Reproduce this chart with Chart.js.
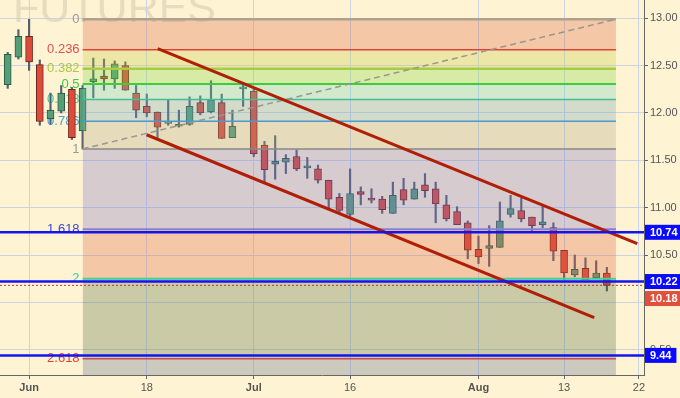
<!DOCTYPE html>
<html>
<head>
<meta charset="utf-8">
<script src="https://cdn.jsdelivr.net/npm/chart.js@4.4.1/dist/chart.umd.min.js"></script>
<style>
  html, body { margin: 0; padding: 0; background: #fef3d2; }
  #wrap { width: 680px; height: 398px; position: relative; }
</style>
</head>
<body>
<div id="wrap"><canvas id="futChart"></canvas></div>
<script>
// trading days, the last three have no candle yet
const tradeDays = ['2018-05-30','2018-05-31','2018-06-01','2018-06-04','2018-06-05','2018-06-06','2018-06-07','2018-06-08',
  '2018-06-11','2018-06-12','2018-06-13','2018-06-14','2018-06-15','2018-06-18','2018-06-19','2018-06-20','2018-06-21','2018-06-22',
  '2018-06-25','2018-06-26','2018-06-27','2018-06-28','2018-06-29','2018-07-02','2018-07-03','2018-07-05','2018-07-06',
  '2018-07-09','2018-07-10','2018-07-11','2018-07-12','2018-07-13','2018-07-16','2018-07-17','2018-07-18','2018-07-19','2018-07-20',
  '2018-07-23','2018-07-24','2018-07-25','2018-07-26','2018-07-27','2018-07-30','2018-07-31','2018-08-01','2018-08-02','2018-08-03',
  '2018-08-06','2018-08-07','2018-08-08','2018-08-09','2018-08-10','2018-08-13','2018-08-14','2018-08-15','2018-08-16','2018-08-17',
  '2018-08-20','2018-08-21','2018-08-22'];

const openP  = [12.30,12.59,12.81,12.51,11.94,12.02,12.25,11.81,12.33,12.39,12.36,12.50,12.21,12.07,12.01,11.89,11.86,11.88,12.11,12.01,
  12.11,11.74,12.255,12.23,11.66,11.46,11.48,11.54,11.42,11.41,11.29,11.11,10.93,11.17,11.10,11.09,10.94,11.19,11.09,11.24,
  11.20,11.03,10.96,10.84,10.56,10.57,10.58,10.93,10.97,10.90,10.82,10.79,10.55,10.29,10.36,10.26,10.31];
const highP  = [12.64,12.88,12.99,12.56,12.21,12.29,12.27,12.29,12.58,12.57,12.55,12.54,12.29,12.20,12.01,12.14,12.03,12.17,12.18,12.34,
  12.20,12.03,12.30,12.27,11.70,11.76,11.56,11.61,11.53,11.45,11.29,11.15,11.41,11.22,11.20,11.12,11.27,11.31,11.27,11.36,
  11.27,11.13,11.01,10.86,10.70,10.81,11.06,11.13,11.10,10.90,11.03,10.84,10.55,10.50,10.47,10.44,10.37];
const lowP   = [12.26,12.57,12.45,11.87,11.88,12.00,11.72,11.62,12.16,12.24,12.26,12.24,11.95,11.96,11.74,11.87,11.85,11.87,11.98,12.00,
  11.73,11.74,12.07,11.54,11.27,11.30,11.36,11.39,11.31,11.26,11.00,10.94,10.90,11.03,11.05,10.94,10.94,11.03,11.09,11.11,
  10.84,10.86,10.82,10.46,10.41,10.38,10.58,10.90,10.85,10.75,10.79,10.44,10.24,10.27,10.24,10.26,10.12];
const closeP = [12.62,12.81,12.54,11.91,12.03,12.21,11.74,12.26,12.36,12.36,12.52,12.24,12.03,12.00,11.85,11.91,11.88,12.07,12.00,12.14,
  11.73,11.86,12.26,11.57,11.40,11.49,11.52,11.41,11.425,11.29,11.09,10.97,11.15,11.14,11.08,10.98,11.13,11.08,11.20,11.18,
  11.04,10.88,10.82,10.55,10.48,10.60,10.86,10.99,10.88,10.81,10.85,10.54,10.31,10.35,10.24,10.31,10.18];

// fibonacci tool: 0 at the high, 1 at the Jun 8 low
const fibRatios = [0, 0.236, 0.382, 0.5, 0.618, 0.786, 1, 1.618, 2, 2.618];
const fibLabels = ['0', '0.236', '0.382', '0.5', '0.618', '0.786', '1', '1.618', '2', '2.618'];
const fibHigh = 12.99, fibLow = 11.62;
const fibDays = [7, 56.85];

// channel lines [day index, price]
const upperChannel = [[14.02, 12.68], [58.84, 10.62]];
const lowerChannel = [[12.98, 11.77], [54.82, 9.84]];

const blueLevels = [10.74, 10.22, 9.44];
const lastPrice = 10.18;

const yTicks = [9.5, 10, 10.5, 11, 11.5, 12, 12.5, 13];
const xTickDays = ['2018-06-01', '2018-06-18', '2018-07-02', '2018-07-16', '2018-08-01', '2018-08-13', '2018-08-22'];
const xTickText = ['Jun', '18', 'Jul', '16', 'Aug', '13', '22'];

// colours
const upFill = '#559e78', downFill = '#dd4b39';
const fibLineColors = ['#b0a090', '#e0403a', '#a8cc48', '#3ccc3c', '#44bb99', '#4a9ad0', '#888888', '#8a80cc', '#40d0a0', '#d04848'];
const fibLineWidths = [2.5, 1.5, 2.5, 2, 1.5, 1.5, 1.5, 2, 2, 1.5];
const fibTextColors = ['#9a9a9a', '#e05050', '#a8c840', '#40c840', '#40c8a0', '#4aa0d8', '#9a9a9a', '#3a4ad0', '#40c8a0', '#e04040'];
const zoneColors = ['rgba(221,100,70,0.3)', 'rgba(194,206,70,0.3)', 'rgba(127,220,70,0.3)', 'rgba(114,213,190,0.3)',
  'rgba(114,166,190,0.3)', 'rgba(174,166,137,0.3)', 'rgba(121,113,203,0.3)', 'rgba(221,100,70,0.3)',
  'rgba(84,110,70,0.3)', 'rgba(91,110,140,0.3)'];

const fibPrice = r => fibHigh - r * (fibHigh - fibLow);
const X_MIN = -0.72, X_MAX = 59.47;

const datasets = [];

// wicks
datasets.push({
  type: 'bar', order: 300, grouped: false, barThickness: 1.5,
  data: lowP.map((l, i) => ({ x: i, y: [l, highP[i]] })),
  backgroundColor: '#56606e', borderWidth: 0
});
// bodies
datasets.push({
  type: 'bar', order: 250, grouped: false, barThickness: 7, minBarLength: 2,
  data: openP.map((o, i) => ({ x: i, y: [o, closeP[i]] })),
  backgroundColor: c => closeP[c.dataIndex] >= openP[c.dataIndex] ? upFill : downFill,
  borderColor: c => closeP[c.dataIndex] >= openP[c.dataIndex] ? '#2f5a46' : '#6a2620',
  borderWidth: 1, borderSkipped: false
});
// fib zones (semi transparent over the candles)
fibRatios.forEach((r, i) => {
  const p = fibPrice(r);
  datasets.push({
    type: 'line', order: 200 - i,
    data: [{ x: fibDays[0], y: p }, { x: fibDays[1], y: p }],
    borderColor: fibLineColors[i], borderWidth: fibLineWidths[i],
    backgroundColor: zoneColors[i],
    fill: i < fibRatios.length - 1 ? '+1' : 'start',
    pointRadius: 0
  });
});
// dashed diagonal of the fib tool
datasets.push({
  type: 'line', order: 50,
  data: [{ x: fibDays[0], y: fibLow }, { x: fibDays[1], y: fibHigh }],
  borderColor: '#9a9590', borderWidth: 1.5, borderDash: [6, 4], pointRadius: 0, fill: false
});
[upperChannel, lowerChannel].forEach(ch => {
  datasets.push({
    type: 'line', order: 20,
    data: ch.map(([x, y]) => ({ x, y })),
    borderColor: '#b01e05', borderWidth: 3, pointRadius: 0, fill: false
  });
});
blueLevels.forEach(v => {
  datasets.push({
    type: 'line', order: 10,
    data: [{ x: X_MIN, y: v }, { x: X_MAX, y: v }],
    borderColor: '#1414f0', borderWidth: 2.5, pointRadius: 0, fill: false
  });
});
datasets.push({
  type: 'line', order: 5,
  data: [{ x: X_MIN, y: lastPrice }, { x: X_MAX, y: lastPrice }],
  borderColor: '#c83030', borderWidth: 1, borderDash: [2, 2], pointRadius: 0, fill: false
});

const bgPlugin = {
  id: 'bg',
  beforeDraw(chart) {
    const { ctx, width, height } = chart;
    ctx.save();
    ctx.fillStyle = '#fef3d2';
    ctx.fillRect(0, 0, width, height);
    ctx.font = '43px "Liberation Sans", Arial, sans-serif';
    ctx.fillStyle = 'rgba(140,130,110,0.2)';
    ctx.textBaseline = 'alphabetic';
    ctx.fillText('FUTURES', 13, 22);
    ctx.restore();
  }
};

const fibTextPlugin = {
  id: 'fibText',
  beforeDatasetsDraw(chart) {
    const { ctx, scales: { x, y } } = chart;
    const left = x.getPixelForValue(fibDays[0]) - 3;
    ctx.save();
    ctx.font = '13px "Liberation Sans", Arial, sans-serif';
    ctx.textAlign = 'right';
    ctx.textBaseline = 'middle';
    fibRatios.forEach((r, i) => {
      ctx.fillStyle = fibTextColors[i];
      ctx.fillText(fibLabels[i], left, y.getPixelForValue(fibPrice(r)));
    });
    ctx.restore();
  }
};

const tagPlugin = {
  id: 'tags',
  afterDraw(chart) {
    const { ctx, chartArea, scales: { y } } = chart;
    const tags = blueLevels.map(v => ({ v, c: '#0a0aff' }));
    tags.splice(2, 0, { v: lastPrice, c: '#e0503c' });
    ctx.save();
    ctx.font = 'bold 11px "Liberation Sans", Arial, sans-serif';
    ctx.textBaseline = 'middle';
    let lastBottom = -100;
    tags.forEach(t => {
      const txt = t.v.toFixed(2);
      const w = ctx.measureText(txt).width + 10;
      const h = 15;
      let top = Math.max(y.getPixelForValue(t.v) - h / 2, lastBottom + 2);
      ctx.fillStyle = t.c;
      ctx.fillRect(chartArea.right + 1, top, w, h);
      ctx.fillStyle = '#ffffff';
      ctx.fillText(txt, chartArea.right + 6, top + h / 2 + 0.5);
      lastBottom = top + h;
    });
    ctx.restore();
  }
};

function renderFuturesChart() {
  const ctx = document.getElementById('futChart').getContext('2d');
  new Chart(ctx, {
    type: 'line',
    data: { datasets },
    options: {
      responsive: true,
      maintainAspectRatio: false,
      animation: false,
      layout: { padding: 0 },
      plugins: { legend: { display: false }, tooltip: { enabled: false } },
      scales: {
        x: {
          type: 'linear', min: X_MIN, max: X_MAX, offset: false,
          afterBuildTicks: s => { s.ticks = xTickDays.map(d => ({ value: tradeDays.indexOf(d) })); },
          afterFit: s => { s.height = 23; s.paddingLeft = 0; s.paddingRight = 0; },
          grid: { color: '#ccd4e2', borderDash: [5, 4], tickColor: '#666', tickLength: 4, offset: false },
          border: { color: '#666', width: 1, dash: [] },
          ticks: {
            autoSkip: false, maxRotation: 0, padding: 2, color: '#555',
            callback: (v, i) => xTickText[i],
            font: c => ({ family: '"Liberation Sans", Arial, sans-serif', size: 11,
              weight: isNaN(Number(xTickText[c.index])) ? 'bold' : 'normal' })
          }
        },
        y: {
          type: 'linear', position: 'right', min: 9.233, max: 13.193,
          afterBuildTicks: s => { s.ticks = yTicks.map(v => ({ value: v })); },
          afterFit: s => { s.width = 36; s.paddingTop = 0; s.paddingBottom = 0; },
          grid: { color: '#ccd4e2', borderDash: [5, 4], tickColor: '#666', tickLength: 4 },
          border: { color: '#666', width: 1 },
          ticks: {
            padding: 2, color: '#555',
            callback: v => v.toFixed(2),
            font: { family: '"Liberation Sans", Arial, sans-serif', size: 11 }
          }
        }
      }
    },
    plugins: [bgPlugin, fibTextPlugin, tagPlugin]
  });
}

document.addEventListener('DOMContentLoaded', renderFuturesChart);
</script>
</body>
</html>
